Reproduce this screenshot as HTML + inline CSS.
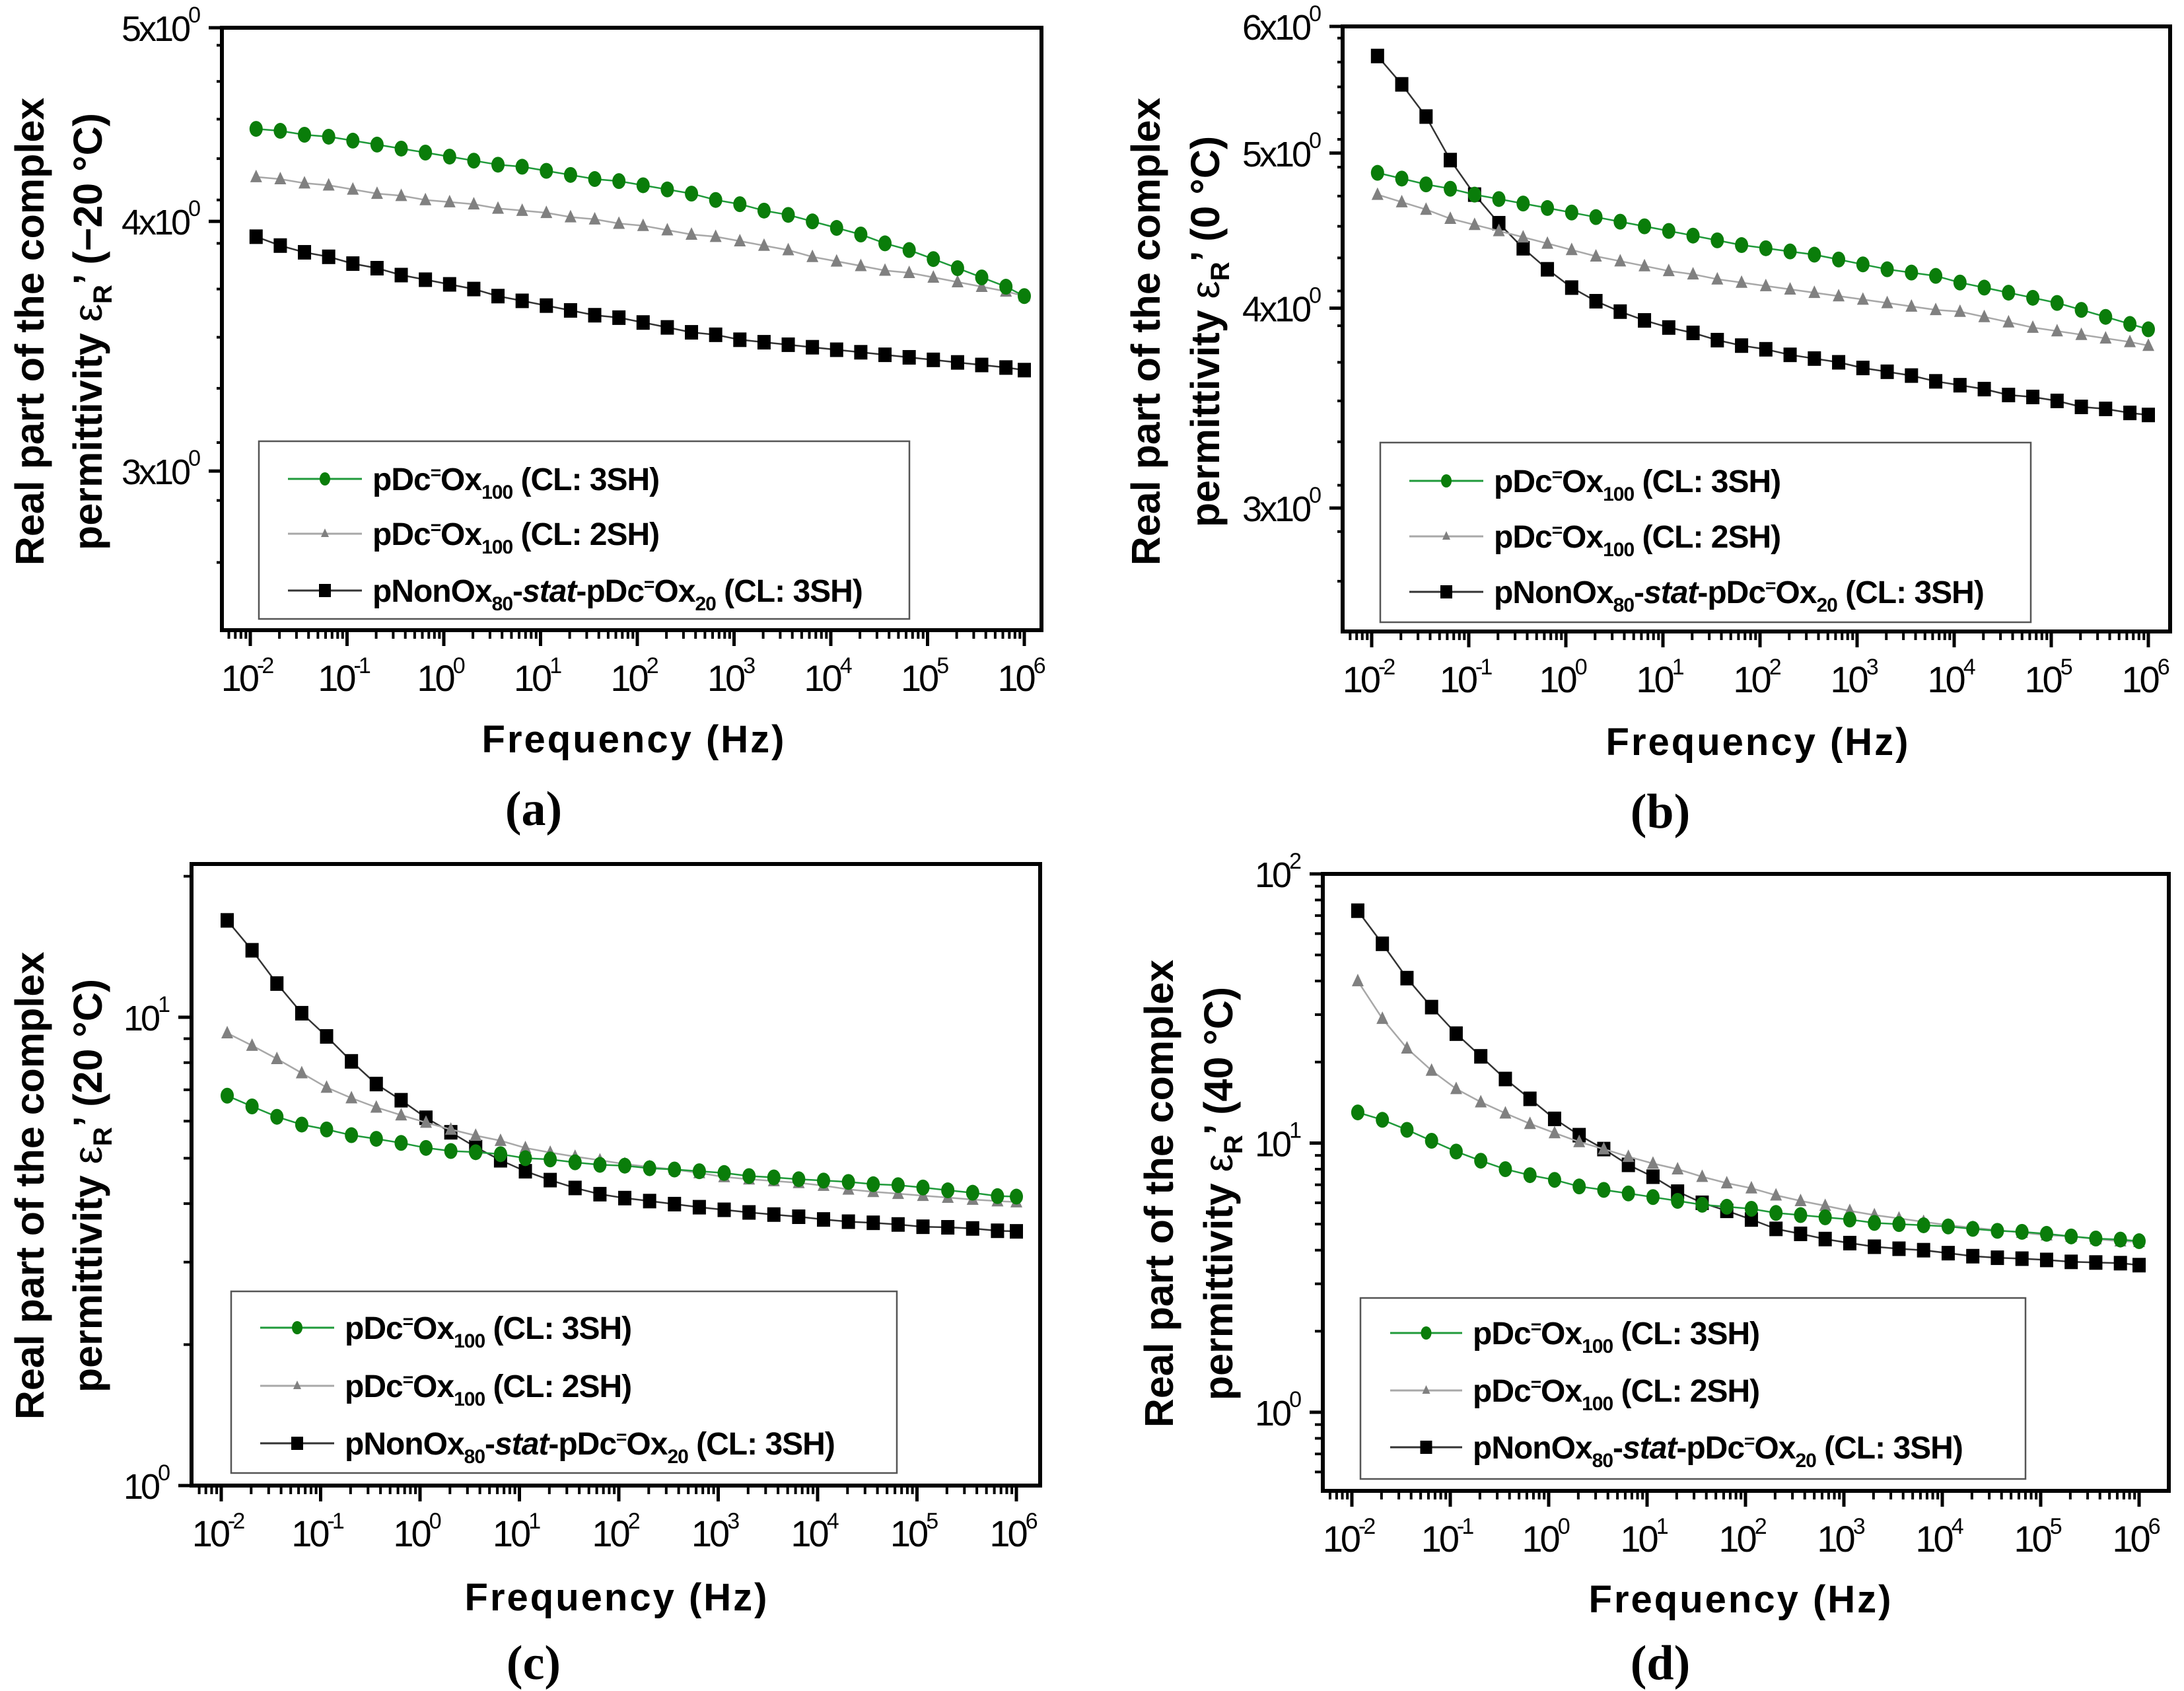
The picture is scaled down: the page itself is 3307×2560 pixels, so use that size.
<!DOCTYPE html>
<html><head><meta charset="utf-8">
<style>
html,body{margin:0;padding:0;background:#fff;}
svg{display:block;}
</style></head>
<body>
<svg id="fig" xmlns="http://www.w3.org/2000/svg" width="3307" height="2560" viewBox="0 0 3307 2560" font-family="'Liberation Sans',Arial,sans-serif"></svg>
<script>
// ---- data (log10 of frequency in Hz) ----
const logFreq = [-1.94,-1.69,-1.44,-1.19,-0.94,-0.69,-0.44,-0.19,0.06,0.31,0.56,0.81,1.06,1.31,1.56,1.81,2.06,2.31,2.56,2.81,3.06,3.31,3.56,3.81,4.06,4.31,4.56,4.81,5.06,5.31,5.56,5.81,6.0];
const xTickExps = [-2,-1,0,1,2,3,4,5,6];
const seriesNames = ["pDc=Ox100 (CL: 3SH)","pDc=Ox100 (CL: 2SH)","pNonOx80-stat-pDc=Ox20 (CL: 3SH)"];

// panel (a) -20 °C
const aGreen = [4.45,4.44,4.42,4.41,4.39,4.37,4.35,4.33,4.31,4.29,4.27,4.26,4.24,4.22,4.20,4.19,4.17,4.15,4.13,4.10,4.08,4.05,4.03,4.00,3.97,3.94,3.90,3.87,3.83,3.79,3.75,3.71,3.67];
const aGray  = [4.21,4.20,4.18,4.17,4.15,4.13,4.12,4.10,4.09,4.08,4.06,4.05,4.04,4.02,4.01,3.99,3.98,3.96,3.94,3.93,3.91,3.89,3.87,3.84,3.82,3.80,3.78,3.77,3.75,3.73,3.71,3.69,3.67];
const aBlack = [3.93,3.89,3.86,3.84,3.81,3.79,3.76,3.74,3.72,3.70,3.67,3.65,3.63,3.61,3.59,3.58,3.56,3.54,3.52,3.51,3.49,3.48,3.47,3.46,3.45,3.44,3.43,3.42,3.41,3.40,3.39,3.38,3.37];
const aYTicks = [3,4,5];
const aYLabels = ["3x10","4x10","5x10"];

// panel (b) 0 °C
const bGreen = [4.86,4.82,4.78,4.75,4.71,4.68,4.65,4.62,4.59,4.56,4.53,4.50,4.47,4.44,4.41,4.38,4.36,4.34,4.32,4.29,4.26,4.23,4.21,4.19,4.15,4.12,4.09,4.06,4.03,3.99,3.95,3.91,3.88];
const bGray  = [4.71,4.66,4.61,4.55,4.51,4.47,4.43,4.39,4.35,4.31,4.28,4.25,4.22,4.20,4.17,4.15,4.13,4.11,4.09,4.07,4.05,4.03,4.01,3.99,3.98,3.95,3.92,3.89,3.87,3.85,3.83,3.81,3.79];
const bBlack = [5.75,5.52,5.27,4.95,4.71,4.52,4.36,4.23,4.12,4.04,3.98,3.93,3.89,3.86,3.82,3.79,3.77,3.74,3.72,3.70,3.67,3.65,3.63,3.60,3.58,3.56,3.53,3.52,3.50,3.47,3.46,3.44,3.43];
const bYTicks = [3,4,5,6];
const bYLabels = ["3x10","4x10","5x10","6x10"];

// panel (c) 20 °C
const cGreen = [6.8,6.45,6.13,5.9,5.76,5.6,5.5,5.39,5.26,5.18,5.15,5.1,5.0,4.97,4.9,4.84,4.82,4.76,4.73,4.69,4.65,4.58,4.55,4.51,4.48,4.45,4.40,4.38,4.33,4.27,4.22,4.15,4.14];
const cGray  = [9.25,8.7,8.15,7.6,7.08,6.72,6.42,6.18,5.96,5.76,5.59,5.45,5.26,5.14,5.04,4.95,4.86,4.79,4.73,4.65,4.56,4.51,4.47,4.43,4.37,4.29,4.24,4.20,4.16,4.12,4.08,4.05,4.03];
const cBlack = [16.1,13.9,11.8,10.2,9.1,8.05,7.2,6.65,6.1,5.68,5.28,4.95,4.69,4.49,4.32,4.19,4.11,4.05,3.99,3.93,3.88,3.83,3.79,3.75,3.70,3.66,3.64,3.61,3.57,3.56,3.54,3.50,3.49];
const cYTicks = [1,10];
const cYLabels = ["10","10"];
const cYExps = ["0","1"];

// panel (d) 40 °C
const dGreen = [13.0,12.2,11.2,10.2,9.3,8.6,8.0,7.6,7.3,6.9,6.7,6.5,6.3,6.1,5.9,5.8,5.7,5.5,5.4,5.3,5.2,5.05,5.0,4.95,4.9,4.8,4.72,4.68,4.6,4.5,4.42,4.38,4.32];
const dGray  = [40,29,22.5,18.6,15.9,14.2,12.9,11.8,10.9,10.1,9.5,8.9,8.4,8.0,7.5,7.1,6.8,6.4,6.1,5.85,5.6,5.4,5.25,5.1,4.95,4.85,4.75,4.65,4.55,4.5,4.4,4.32,4.3];
const dBlack = [73,55,41,32,25.5,21,17.3,14.6,12.3,10.7,9.5,8.3,7.5,6.6,6.0,5.6,5.2,4.8,4.6,4.4,4.25,4.12,4.05,4.0,3.9,3.8,3.75,3.72,3.68,3.62,3.6,3.58,3.52];
const dYTicks = [1,10,100];
const dYLabels = ["10","10","10"];
const dYExps = ["0","1","2"];

const NS = "http://www.w3.org/2000/svg";
const svg = document.getElementById('fig');
function mk(tag, attrs, parent){
  const e = document.createElementNS(NS, tag);
  for (const k in attrs) e.setAttribute(k, attrs[k]);
  (parent||svg).appendChild(e);
  return e;
}
function tspan(parent, txt, attrs){
  const t = document.createElementNS(NS,'tspan');
  for (const k in (attrs||{})) t.setAttribute(k, attrs[k]);
  t.textContent = txt; parent.appendChild(t); return t;
}

function drawPanel(p){
  const g = mk('g', {});
  
  
  const xS = lf => p.x0 + (lf + 2) * p.dec;
  const yS = v => p.yRefPx - (Math.log10(v) - Math.log10(p.yRefVal)) * p.pd;

  const frame = mk('rect', {x:p.L, y:p.T, width:p.R-p.L, height:p.B-p.T, fill:'none', stroke:'#000', 'stroke-width':6}, g);
  
  

  const xg = mk('g', {}, g);
  
  
  for (let e = -3; e <= 6; e++){
    for (let m = 1; m <= 9; m++){
      const lf = e + Math.log10(m);
      const x = xS(lf);
      if (x < p.L + 2 || x > p.R - 2) continue;
      const major = m === 1;
      mk('line', {x1:x, y1:p.B, x2:x, y2:p.B + (major?24:13), stroke:'#000', 'stroke-width':major?5:4}, xg);
    }
  }
  xTickExps.forEach(e => {
    const x = xS(e);
    const t = mk('text', {x:x-6, y:p.B+92, 'font-size':56, 'text-anchor':'middle', fill:'#000', 'letter-spacing':-4}, xg);
    
    
    tspan(t, '10');
    tspan(t, e < 0 ? ('-' + (-e)) : String(e), {'font-size':34, dy:-27});
  });

  const yg = mk('g', {}, g);
  
  
  if (p.logMinor){
    for (let e = -1; e <= 2; e++) for (let m = 2; m <= 9; m++){
      const y = yS(m * Math.pow(10, e));
      if (y < p.T + 3 || y > p.B - 3) continue;
      mk('line', {x1:p.L-12, y1:y, x2:p.L, y2:y, stroke:'#000', 'stroke-width':4}, yg);
    }
  } else {
    for (let v = 2.5; v <= 6.01; v += 0.2){
      const y = yS(v);
      if (y < p.T + 3 || y > p.B - 3) continue;
      mk('line', {x1:p.L-8, y1:y, x2:p.L, y2:y, stroke:'#000', 'stroke-width':4}, yg);
    }
  }
  p.yTicks.forEach((v, i) => {
    const y = yS(v);
    mk('line', {x1:p.L-20, y1:y, x2:p.L, y2:y, stroke:'#000', 'stroke-width':5}, yg);
    const t = mk('text', {x:p.L-36, y:y+20, 'font-size':54, 'text-anchor':'end', fill:'#000', 'letter-spacing':-4}, yg);
    
    
    tspan(t, p.yLabels[i]);
    tspan(t, p.yExps ? p.yExps[i] : '0', {'font-size':34, dy:-28});
  });

  const defs = [
    {vals:p.green, line:'#1f9a3a', lw:2.5, fill:'#0a7d0a', shape:'diamond', name:'series-3sh'},
    {vals:p.gray, line:'#a8a8a8', lw:2.5, fill:'#808080', shape:'triangle', name:'series-2sh'},
    {vals:p.black, line:'#333', lw:2.5, fill:'#000', shape:'square', name:'series-nonox-stat'}
  ];
  defs.slice().reverse().forEach(s => {
    const sg = mk('g', {}, g);
    
    
    const pts = s.vals.map((v, i) => [xS(logFreq[i]), yS(v)]);
    const pl = mk('polyline', {points: pts.map(q => q[0].toFixed(1)+','+q[1].toFixed(1)).join(' '), fill:'none', stroke:s.line, 'stroke-width':s.lw}, sg);
    
    
    pts.forEach(q => {
      let m;
      if (s.shape === 'square') m = mk('rect', {x:q[0]-10, y:q[1]-11, width:20, height:22, fill:s.fill}, sg);
      else if (s.shape === 'triangle') m = mk('polygon', {points:`${q[0]},${q[1]-11} ${q[0]-9},${q[1]+8} ${q[0]+9},${q[1]+8}`, fill:s.fill}, sg);
      else m = mk('ellipse', {cx:q[0], cy:q[1], rx:10, ry:12, fill:s.fill}, sg);
      
      
    });
  });

  const lg = mk('g', {}, g);
  
  
  mk('rect', {x:p.lg[0], y:p.lg[1], width:p.lg[2]-p.lg[0], height:p.lg[3]-p.lg[1], fill:'#fff', stroke:'#555', 'stroke-width':2.5}, lg);
  defs.forEach((s, i) => {
    const y = p.ly[i];
    const eg = mk('g', {}, lg);
    
    
    mk('line', {x1:p.lx[0], y1:y, x2:p.lx[1], y2:y, stroke:s.line, 'stroke-width':3}, eg);
    const cx = (p.lx[0]+p.lx[1])/2;
    if (s.shape === 'square') mk('rect', {x:cx-9, y:y-10, width:18, height:20, fill:s.fill}, eg);
    else if (s.shape === 'triangle') mk('polygon', {points:`${cx},${y-8} ${cx-6},${y+5} ${cx+6},${y+5}`, fill:s.fill}, eg);
    else mk('ellipse', {cx:cx, cy:y, rx:8, ry:10, fill:s.fill}, eg);
    const t = mk('text', {x:p.lx[1]+16, y:y+17, 'font-size':48, 'font-weight':'bold', fill:'#000', 'letter-spacing':-1}, eg);
    if (i < 2){
      tspan(t, 'pDc'); tspan(t, '=', {'font-size':28, dy:-17}); tspan(t, 'Ox', {dy:17});
      tspan(t, '100', {'font-size':30, dy:13}); tspan(t, ' (CL: ' + (i===0?'3':'2') + 'SH)', {dy:-13});
    } else {
      tspan(t, 'pNonOx'); tspan(t, '80', {'font-size':30, dy:13}); tspan(t, '-', {dy:-13});
      tspan(t, 'stat', {'font-style':'italic'}); tspan(t, '-pDc');
      tspan(t, '=', {'font-size':28, dy:-17}); tspan(t, 'Ox', {dy:17});
      tspan(t, '20', {'font-size':30, dy:13}); tspan(t, ' (CL: 3SH)', {dy:-13});
    }
  });

  const t1 = mk('text', {x:0, y:0, 'font-size':61, 'font-weight':'bold', 'text-anchor':'middle', fill:'#000', transform:`translate(${p.tx1},${p.ty}) rotate(-90)`}, g);
  
  
  t1.textContent = 'Real part of the complex';
  const t2 = mk('text', {x:0, y:0, 'font-size':61, 'font-weight':'bold', 'text-anchor':'middle', fill:'#000', transform:`translate(${p.tx2},${p.ty}) rotate(-90)`}, g);
  
  
  tspan(t2, 'permittivity ');
  tspan(t2, 'ε', {'font-weight':'normal'});
  tspan(t2, 'R', {'font-size':40, dy:15});
  tspan(t2, '\u2019 (' + p.temp + ')', {dy:-15});
  const fx = mk('text', {x:p.fx, y:p.fy+21, 'font-size':58, 'font-weight':'bold', 'text-anchor':'middle', fill:'#000', 'letter-spacing':3}, g);
  
  
  fx.textContent = 'Frequency (Hz)';
  const pl = mk('text', {x:p.px, y:p.py+26, 'font-size':74, 'font-weight':'bold', 'text-anchor':'middle', fill:'#000', style:"font-family:'Liberation Serif',serif"}, g);
  
  
  pl.textContent = '(' + p.id + ')';
}

drawPanel({id:'a', L:336, R:1577, T:42, B:954, x0:379, dec:146.5, yRefVal:5, yRefPx:42, pd:3025, logMinor:false,
  green:aGreen, gray:aGray, black:aBlack, yTicks:aYTicks, yLabels:aYLabels,
  lg:[392,668,1377,937], ly:[725,808,894], lx:[436,548],
  tx1:66, tx2:154, ty:502, temp:'\u221220 \u00B0C', fx:960, fy:1118, px:808, py:1223});
drawPanel({id:'b', L:2033, R:3286, T:40, B:956, x0:2077, dec:147, yRefVal:6, yRefPx:40, pd:2422, logMinor:false,
  green:bGreen, gray:bGray, black:bBlack, yTicks:bYTicks, yLabels:bYLabels,
  lg:[2090,670,3075,942], ly:[728,812,896], lx:[2134,2246],
  tx1:1756, tx2:1846, ty:502, temp:'0 \u00B0C', fx:2662, fy:1122, px:2514, py:1227});
drawPanel({id:'c', L:290, R:1575, T:1308, B:2249, x0:335, dec:150.5, yRefVal:1, yRefPx:2249, pd:709, logMinor:true,
  green:cGreen, gray:cGray, black:cBlack, yTicks:cYTicks, yLabels:cYLabels, yExps:cYExps,
  lg:[350,1955,1358,2230], ly:[2010,2098,2185], lx:[394,506],
  tx1:66, tx2:154, ty:1795, temp:'20 \u00B0C', fx:934, fy:2417, px:808, py:2516});
drawPanel({id:'d', L:2003, R:3284, T:1323, B:2257, x0:2047, dec:149, yRefVal:100, yRefPx:1323, pd:407.5, logMinor:true,
  green:dGreen, gray:dGray, black:dBlack, yTicks:dYTicks, yLabels:dYLabels, yExps:dYExps,
  lg:[2060,1965,3067,2239], ly:[2018,2105,2191], lx:[2105,2214],
  tx1:1776, tx2:1866, ty:1807, temp:'40 \u00B0C', fx:2636, fy:2420, px:2514, py:2516});
</script>
</body></html>
